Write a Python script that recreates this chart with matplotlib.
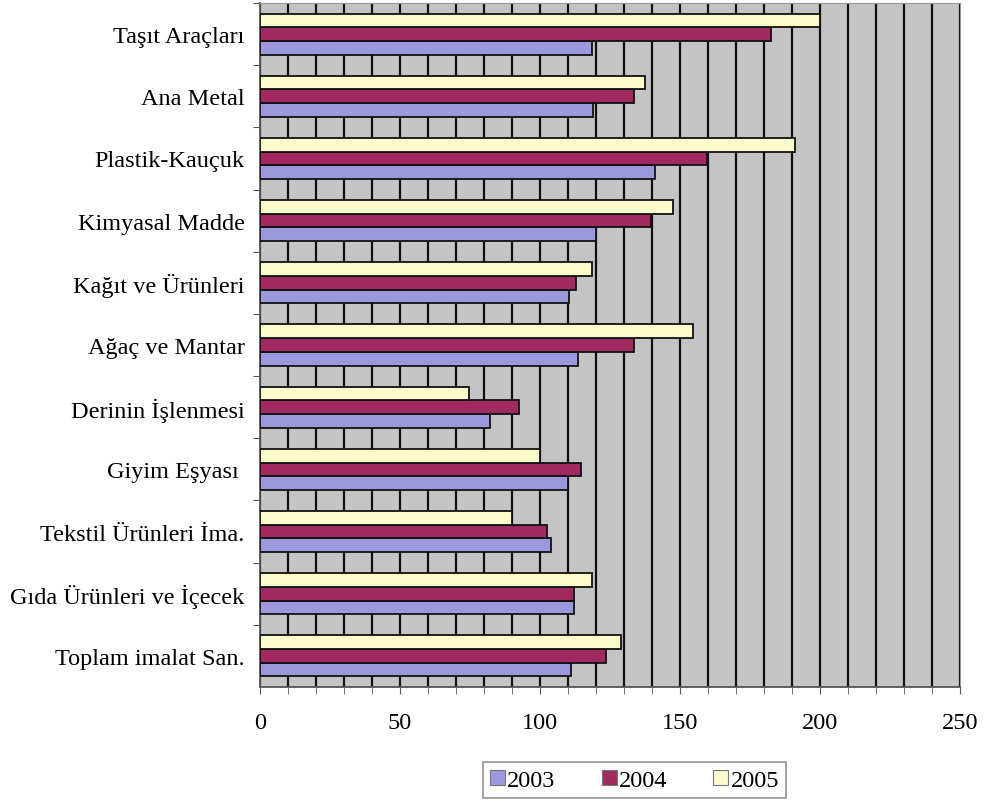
import numpy as np
import matplotlib.pyplot as plt
from matplotlib.ticker import MultipleLocator

# sectors, listed bottom to top as they appear on the y axis
sectors = ['Toplam imalat San.', 'Gıda Ürünleri ve İçecek', 'Tekstil Ürünleri İma.',
           'Giyim Eşyası ', 'Derinin İşlenmesi', 'Ağaç ve Mantar', 'Kağıt ve Ürünleri',
           'Kimyasal Madde', 'Plastik-Kauçuk', 'Ana Metal', 'Taşıt Araçları']
years = ['2003', '2004', '2005']
v2003 = [111, 112, 104, 110, 82, 113.5, 110.5, 120, 141, 119, 118.5]
v2004 = [123.5, 112, 102.5, 114.5, 92.5, 133.5, 113, 139.5, 159.5, 133.5, 182.5]
v2005 = [129, 118.5, 90, 100, 74.5, 154.5, 118.5, 147.5, 191, 137.5, 200]

colors = ['#9c98dc', '#a02a60', '#fbfbcc']

plt.rcParams['font.family'] = ['Liberation Serif', 'DejaVu Serif']
fs = 17.5

fig = plt.figure(figsize=(9.84, 8.03), dpi=100)
ax = fig.add_axes([0.2642, 0.1432, 0.7114, 0.8518])
ax.set_facecolor('#c4c4c4')

y = np.arange(len(sectors))
h = 0.22
for k, (vals, lab) in enumerate(zip([v2003, v2004, v2005], years)):
    ax.barh(y + (k - 1) * h, vals, height=h, color=colors[k], edgecolor='#111111',
            linewidth=1.3, label=lab, zorder=3)

ax.set_xlim(0, 250)
ax.set_ylim(-0.5, len(sectors) - 0.5)
ax.xaxis.set_major_locator(MultipleLocator(50))
ax.xaxis.set_minor_locator(MultipleLocator(10))
ax.grid(axis='x', which='both', color='#111111', linewidth=1.6, zorder=1)
ax.set_axisbelow(True)

# category labels sit between the boundary ticks
ax.set_yticks(y + 0.5)
ax.set_yticklabels([])
ax.set_yticks(y, minor=True)
ax.set_yticklabels(sectors, minor=True, fontsize=fs)
ax.tick_params(axis='y', which='minor', length=0, pad=11)
ax.tick_params(axis='y', which='major', length=5, color='#555555')
ax.tick_params(axis='x', which='both', length=5, color='#555555', labelsize=fs, pad=13)

for side in ['left', 'bottom']:
    ax.spines[side].set_color('#555555')
    ax.spines[side].set_linewidth(1.3)
for side in ['top', 'right']:
    ax.spines[side].set_color('#999999')

leg = fig.legend(loc='center', bbox_to_anchor=(0.645, 0.027), ncol=3, fontsize=fs,
                 frameon=True, fancybox=False, edgecolor='#777777', handlelength=0.6,
                 handleheight=0.6, handletextpad=0.1, columnspacing=1.9,
                 borderpad=0.3, borderaxespad=0)
leg.get_frame().set_linewidth(1.2)
for patch in leg.get_patches():
    patch.set_edgecolor('#777777')
    patch.set_linewidth(0.8)

fig.savefig('out.png', dpi=100)
